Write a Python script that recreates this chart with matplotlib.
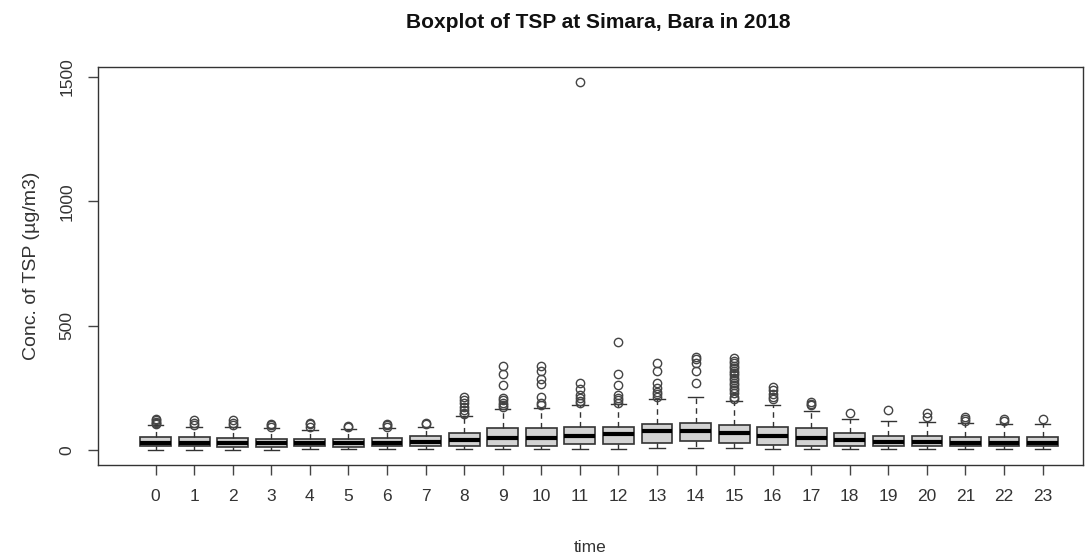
import matplotlib
matplotlib.use("Agg")
import matplotlib.pyplot as plt

plt.rcParams['font.family'] = ['Liberation Sans', 'DejaVu Sans']

hours = list(range(24))
q1 = [15, 15, 14, 14, 15, 14, 15, 17, 18, 18, 18, 24, 24, 30, 35, 28, 20, 17, 16, 15, 15, 15, 15, 15]
med = [30, 30, 28, 28, 30, 28, 30, 33, 40, 48, 48, 56, 65, 77, 77, 68, 56, 48, 40, 32, 32, 30, 30, 30]
q3 = [52, 52, 48, 46, 45, 44, 48, 55, 68, 89, 89, 93, 93, 105, 109, 101, 92, 89, 68, 56, 55, 53, 52, 52]
whis_lo = [2, 2, 2, 2, 3, 3, 3, 3, 3, 5, 5, 4, 5, 8, 8, 8, 5, 5, 5, 3, 3, 3, 3, 3]
whis_hi = [100, 95, 95, 90, 80, 85, 88, 95, 137, 165, 168, 181, 185, 205, 214, 198, 181, 157, 125, 117, 113, 108, 105, 105]
outliers = [
    [105, 110, 115, 120, 125],
    [100, 110, 120],
    [100, 110, 120],
    [95, 100, 105],
    [95, 105, 110],
    [92, 97],
    [95, 100, 105],
    [105, 110],
    [145, 150, 160, 175, 190, 200, 215],
    [175, 180, 190, 200, 210, 260, 305, 340],
    [180, 190, 215, 265, 285, 320, 340],
    [190, 198, 210, 220, 245, 270, 1480],
    [190, 200, 210, 220, 260, 305, 435],
    [215, 225, 235, 250, 270, 320, 350],
    [270, 320, 350, 365, 375],
    [205, 215, 230, 240, 250, 260, 270, 280, 290, 300, 310, 320, 330, 340, 350, 360, 370],
    [205, 215, 225, 240, 255],
    [180, 185, 195],
    [150],
    [160],
    [135, 148],
    [118, 125, 135],
    [118, 125],
    [125],
]

stats = []
for i in range(len(hours)):
    stats.append({'q1': q1[i], 'med': med[i], 'q3': q3[i],
                  'whislo': whis_lo[i], 'whishi': whis_hi[i],
                  'fliers': outliers[i], 'label': str(hours[i])})

fig = plt.figure(figsize=(10.86, 5.53), dpi=100)
ax = fig.add_axes([0.090, 0.159, 0.907, 0.720])

ax.bxp(stats, positions=hours, widths=0.8, patch_artist=True,
       boxprops=dict(facecolor='#d3d3d3', edgecolor='#333333', linewidth=1.2),
       medianprops=dict(color='black', linewidth=3),
       whiskerprops=dict(color='#333333', linestyle=(0, (4, 3)), linewidth=1),
       capprops=dict(color='#333333', linewidth=1),
       capwidths=0.4,
       flierprops=dict(marker='o', markerfacecolor='none', markeredgecolor='#444444',
                       markersize=6, markeredgewidth=1))

ax.set_xlim(-1.5, 24.04)
ax.set_ylim(-60, 1540)
ax.set_xticks(hours)
ax.set_xticklabels([str(h) for h in hours])
ax.set_yticks([0, 500, 1000, 1500])
ax.set_yticklabels(['0', '500', '1000', '1500'], rotation=90, va='center')
ax.tick_params(direction='out', length=7, width=1, colors='#444444', labelsize=12.5,
               labelcolor='#333333', pad=10)
for s in ax.spines.values():
    s.set_color('#333333')
    s.set_linewidth(1)

ax.set_xlabel('time', fontsize=12.5, color='#333333', labelpad=26)
ax.set_ylabel('Conc. of TSP (\u00b5g/m3)', fontsize=14, color='#333333', labelpad=14)
fig.text(598 / 1086, 1 - 22 / 553, 'Boxplot of TSP at Simara, Bara in 2018',
         ha='center', va='center', fontsize=15, fontweight='bold', color='#111111')

fig.savefig('out.png', dpi=100)
